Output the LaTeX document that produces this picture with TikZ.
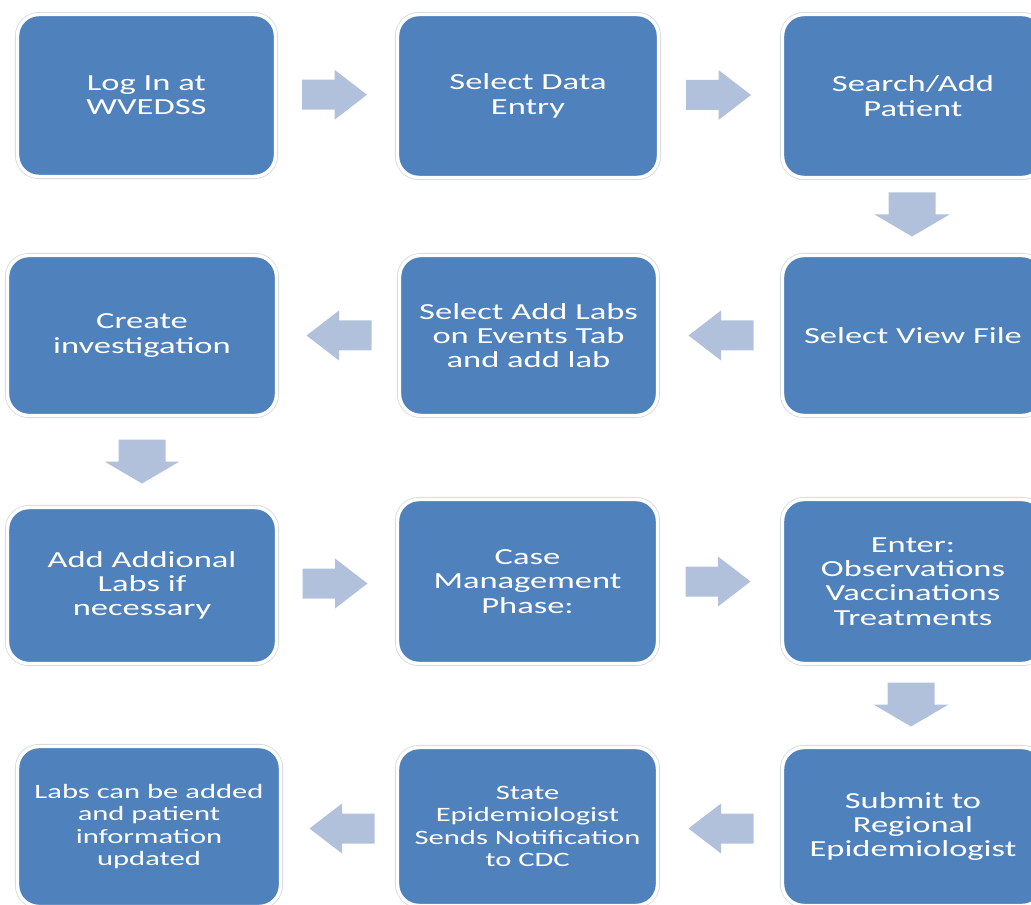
\documentclass[tikz,border=0pt]{standalone}
\usepackage{fontspec}
\setmainfont{Carlito}[FakeStretch=1.5]
\usetikzlibrary{calc}
\definecolor{boxblue}{HTML}{4F81BD}
\definecolor{arrowblue}{HTML}{B2C1DB}
\definecolor{rimgrey}{HTML}{D4D8DE}
\tikzset{
  stepbox/.style={rectangle, rounded corners=16pt, fill=boxblue, draw=white,
    line width=2.6pt, preaction={draw=rimgrey, line width=3.8pt},
    text=white, align=center, inner sep=0pt,
    font={\fontsize{17.25pt}{18.2pt}\selectfont}},
  smalltext/.style={font={\fontsize{15.3pt}{16.9pt}\selectfont}},
  rarrow/.pic={\fill[arrowblue] (-32.5,-15) -- (0,-15) -- (0,-25) -- (32.5,0) -- (0,25) -- (0,15) -- (-32.5,15) -- cycle;},
  larrow/.pic={\fill[arrowblue] (32.5,-15) -- (0,-15) -- (0,-25) -- (-32.5,0) -- (0,25) -- (0,15) -- (32.5,15) -- cycle;},
  darrow/.pic={\fill[arrowblue] (-23.5,-22) -- (23.5,-22) -- (23.5,0) -- (37.5,0) -- (0,22) -- (-37.5,0) -- (-23.5,0) -- cycle;}
}
\begin{document}
\begin{tikzpicture}[x=0.75pt,y=-0.75pt]
\useasboundingbox (0,0) rectangle (1031,905);
\begin{scope}
\clip (0,0) rectangle (1031,905);
% row 1
\node[stepbox, minimum width=258*0.75pt, minimum height=162*0.75pt] (b1) at (146.5,95.5) {Log In at\\WVEDSS};
\node[stepbox, minimum width=261*0.75pt, minimum height=163*0.75pt] (b2) at (528,96) {Select Data\\Entry};
\node[stepbox, minimum width=261*0.75pt, minimum height=163*0.75pt] (b3) at (913,96) {Search/Add\\Patient};
% row 2
\node[stepbox, minimum width=269*0.75pt, minimum height=160*0.75pt] (c1) at (142,335.5) {Create\\investigation};
\node[stepbox, minimum width=258*0.75pt, minimum height=160*0.75pt] (c2) at (528.5,335.5) {Select Add Labs\\on Events Tab\\and add lab};
\node[stepbox, minimum width=261*0.75pt, minimum height=160*0.75pt] (c3) at (913,335.5) {Select View File};
% row 3
\node[stepbox, minimum width=269*0.75pt, minimum height=156*0.75pt] (d1) at (142,585.5) {Add Addional\\Labs if\\necessary};
\node[stepbox, minimum width=260*0.75pt, minimum height=164*0.75pt] (d2) at (527.5,581.5) {Case\\Management\\Phase:};
\node[stepbox, minimum width=261*0.75pt, minimum height=164*0.75pt] (d3) at (913,581.5) {Enter:\\Observations\\Vaccinations\\Treatments};
% row 4
\node[stepbox, smalltext, minimum width=263*0.75pt, minimum height=160*0.75pt] (e1) at (149,826.5) {Labs can be added\\and patient\\information\\updated};
\node[stepbox, smalltext, minimum width=260*0.75pt, minimum height=158*0.75pt] (e2) at (527.5,826.5) {State\\Epidemiologist\\Sends Notification\\to CDC};
\node[stepbox, minimum width=261*0.75pt, minimum height=158*0.75pt] (e3) at (913,826.5) {Submit to\\Regional\\Epidemiologist};
\end{scope}
% arrows
\pic at ($(b1.east)!0.5!(b2.west)+(-2,-1)$) {rarrow};
\pic at ($(b2.east)!0.5!(b3.west)+(-2,-1)$) {rarrow};
\pic at ($(b3.south)!0.5!(c3.north)+(-1,-2)$) {darrow};
\pic at ($(c3.west)!0.5!(c2.east)+(1,0)$) {larrow};
\pic at ($(c2.west)!0.5!(c1.east)+(1,0)$) {larrow};
\pic at ($(c1.south)!0.5!(d1.north)$) {darrow};
\pic at ($(d1.east)!0.5!(d2.west)+(-2,0)$) {rarrow};
\pic at ($(d2.east)!0.5!(d3.west)+(-2,0)$) {rarrow};
\pic at ($(d3.south)!0.5!(e3.north)+(-2,-1)$) {darrow};
\pic at ($(e3.west)!0.5!(e2.east)+(1,2)$) {larrow};
\pic at ($(e2.west)!0.5!(e1.east)+(3,2)$) {larrow};
\end{tikzpicture}
\end{document}
